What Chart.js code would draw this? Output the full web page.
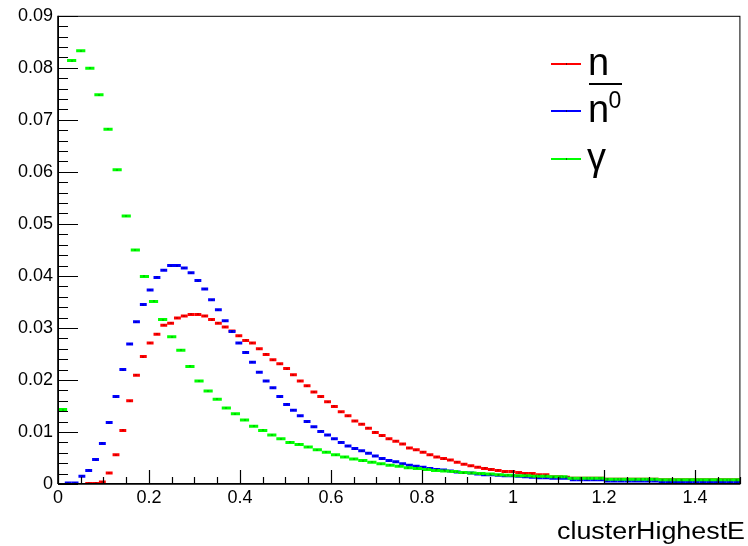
<!DOCTYPE html>
<html>
<head>
<meta charset="utf-8">
<script src="https://cdn.jsdelivr.net/npm/chart.js@4"></script>
<style>
  html, body { margin: 0; padding: 0; background: #fff; }
  #wrap { width: 748px; height: 546px; }
</style>
</head>
<body>
<div id="wrap"><canvas id="grafica"></canvas></div>
<script>
/* ── clusterHighestE — n, n̄⁰ y γ ── */

// binning de cada histograma
const anchoBinNeutron = 0.015;   // 100 bins en 0–1.5
const anchoBinGamma   = 0.02;    // 75 bins en 0–1.5

// contenido por bin, null = bin vacío
const valoresN = [
  null, null, null, null, 0.0001, 0.0001, 0.0004, 0.0021, 0.0056, 0.0103,
  0.0160, 0.0209, 0.0245, 0.0271, 0.0288, 0.0305, 0.0309, 0.0319, 0.0323, 0.0326,
  0.0326, 0.0323, 0.0316, 0.0309, 0.0302, 0.0294, 0.0285, 0.0276, 0.0271, 0.0260,
  0.0249, 0.0239, 0.0231, 0.0222, 0.0210, 0.0198, 0.0189, 0.0177, 0.0168, 0.0158,
  0.0149, 0.0139, 0.0131, 0.0121, 0.0115, 0.0107, 0.0099, 0.0093, 0.0087, 0.0082,
  0.0077, 0.0069, 0.0066, 0.0061, 0.0056, 0.0052, 0.0049, 0.0046, 0.0042, 0.0038,
  0.0035, 0.0032, 0.0030, 0.0028, 0.0026, 0.0024, 0.0024, 0.0022, 0.0020, 0.0020,
  0.0018, 0.0018, 0.0014, 0.0014, 0.0013, 0.0011, 0.0011, 0.0011, 0.0011, 0.0011,
  0.0009, 0.0009, 0.0009, 0.0009, 0.0009, 0.0009, 0.0009, 0.0009, 0.0008, 0.0008,
  0.0008, 0.0008, 0.0008, 0.0008, 0.0008, 0.0008, 0.0008, 0.0008, 0.0008, 0.0008
];
const valoresNbar0 = [
  null, 0.0002, 0.0002, 0.0015, 0.0026, 0.0047, 0.0078, 0.0118, 0.0168, 0.0220,
  0.0269, 0.0312, 0.0345, 0.0373, 0.0397, 0.0411, 0.0420, 0.0420, 0.0415, 0.0406,
  0.0391, 0.0375, 0.0354, 0.0335, 0.0314, 0.0293, 0.0271, 0.0253, 0.0234, 0.0215,
  0.0198, 0.0185, 0.0168, 0.0153, 0.0142, 0.0131, 0.0120, 0.0110, 0.0101, 0.0094,
  0.0087, 0.0080, 0.0073, 0.0068, 0.0064, 0.0059, 0.0054, 0.0049, 0.0045, 0.0043,
  0.0039, 0.0036, 0.0034, 0.0032, 0.0030, 0.0028, 0.0027, 0.0025, 0.0023, 0.0022,
  0.0021, 0.0019, 0.0018, 0.0018, 0.0017, 0.0016, 0.0016, 0.0015, 0.0014, 0.0013,
  0.0012, 0.0012, 0.0011, 0.0011, 0.0011, 0.0008, 0.0008, 0.0008, 0.0008, 0.0008,
  0.0006, 0.0006, 0.0006, 0.0006, 0.0006, 0.0006, 0.0006, 0.0006, 0.0004, 0.0004,
  0.0004, 0.0004, 0.0004, 0.0004, 0.0004, 0.0004, 0.0004, 0.0004, 0.0004, 0.0004
];
const valoresGamma = [
  0.0143, 0.0814, 0.0833, 0.0799, 0.0748, 0.0682, 0.0604, 0.0515, 0.0450, 0.0399,
  0.0351, 0.0316, 0.0283, 0.0257, 0.0226, 0.0198, 0.0179, 0.0163, 0.0146, 0.0135,
  0.0123, 0.0111, 0.0103, 0.0094, 0.0087, 0.0080, 0.0076, 0.0071, 0.0066, 0.0061,
  0.0056, 0.0052, 0.0048, 0.0045, 0.0042, 0.0039, 0.0036, 0.0034, 0.0031, 0.0030,
  0.0028, 0.0026, 0.0025, 0.0024, 0.0022, 0.0021, 0.0020, 0.0019, 0.0018, 0.0017,
  0.0016, 0.0016, 0.0015, 0.0015, 0.0014, 0.0014, 0.0011, 0.0011, 0.0011, 0.0011,
  0.0009, 0.0009, 0.0009, 0.0009, 0.0009, 0.0009, 0.0008, 0.0008, 0.0008, 0.0008,
  0.0008, 0.0008, 0.0008, 0.0008, 0.0008
];

const ticksY = [0, 0.01, 0.02, 0.03, 0.04, 0.05, 0.06, 0.07, 0.08, 0.09];
const ticksX = [0, 0.2, 0.4, 0.6, 0.8, 1.0, 1.2, 1.4];
const tituloX = 'clusterHighestE';

const FUENTE = "'Liberation Sans', Arial, Helvetica, sans-serif";

// puntos en el centro de cada bin
function aPuntos(valores, ancho) {
    return valores.map((v, i) => ({ x: (i + 0.5) * ancho, y: v }));
}

function serie(valores, ancho, color, orden) {
    return {
        data: aPuntos(valores, ancho),
        showLine: false,
        pointStyle: 'line',
        pointRadius: ancho * 458.7 / 2,
        pointBorderWidth: 3,
        pointBorderColor: color,
        pointBackgroundColor: color,
        order: orden,
    };
}

// marcas de eje por dentro del marco, al estilo ROOT
const marcoRoot = {
    id: 'marcoRoot',
    afterDatasetsDraw(chart) {
        const { ctx, chartArea: a, scales: { x, y } } = chart;
        ctx.save();
        // puntito negro de la barra de error
        ctx.fillStyle = 'rgba(0,0,0,0.75)';
        chart.data.datasets.forEach((ds, i) => {
            chart.getDatasetMeta(i).data.forEach(p => {
                if (p.skip || isNaN(p.y)) return;
                ctx.fillRect(Math.round(p.x) - 0.5, Math.round(p.y) - 0.5, 1, 1);
            });
        });
        ctx.strokeStyle = '#000';
        ctx.lineWidth = 1;
        ctx.strokeRect(a.left + 0.5, a.top + 0.5, a.right - a.left - 1, a.bottom - a.top - 1);
        ctx.lineWidth = 1.6;
        ctx.beginPath();
        ctx.moveTo(a.left, a.bottom); ctx.lineTo(a.right, a.bottom);
        ctx.moveTo(a.left, a.bottom); ctx.lineTo(a.left, a.top);
        ctx.stroke();
        ctx.lineWidth = 1.2;
        ctx.beginPath();
        for (let k = 0; k <= 45; k++) {
            const v = k * 0.002;
            const py = Math.round(y.getPixelForValue(v)) + 0.5;
            const len = (k % 5 === 0) ? 20 : 10;
            ctx.moveTo(a.left, py); ctx.lineTo(a.left + len, py);
        }
        for (let k = 0; k <= 30; k++) {
            const v = k * 0.05;
            const px = Math.round(x.getPixelForValue(v)) + 0.5;
            const len = (k % 4 === 0) ? 14 : 7;
            ctx.moveTo(px, a.bottom); ctx.lineTo(px, a.bottom - len);
        }
        ctx.stroke();
        ctx.restore();
    },
    afterDraw(chart) {
        const { ctx } = chart;
        ctx.save();
        // título del eje x, alineado a la derecha
        ctx.fillStyle = '#000';
        ctx.font = '23px ' + FUENTE;
        ctx.textBaseline = 'alphabetic';
        const w = ctx.measureText(tituloX).width;
        const esc = 188 / w;
        ctx.translate(745 - 188, 538.5);
        ctx.scale(esc, 1);
        ctx.fillText(tituloX, 0, 0);
        ctx.restore();

        // leyenda
        ctx.save();
        const entradas = [
            { color: '#ff0000', y: 64 },
            { color: '#0000ff', y: 111 },
            { color: '#00ff00', y: 159 },
        ];
        entradas.forEach(e => {
            ctx.strokeStyle = e.color;
            ctx.lineWidth = 2;
            ctx.beginPath();
            ctx.moveTo(551, e.y); ctx.lineTo(581, e.y);
            ctx.stroke();
            ctx.fillStyle = '#000';
            ctx.fillRect(566, e.y - 0.5, 1, 1);
        });
        ctx.fillStyle = '#000';
        ctx.font = '38px ' + FUENTE;
        ctx.fillText('n', 588, 75);
        ctx.fillRect(589, 83, 33, 2);
        ctx.fillText('n', 588, 121.5);
        ctx.font = '23px ' + FUENTE;
        ctx.fillText('0', 608.5, 107.5);
        ctx.font = '38px ' + FUENTE;
        ctx.fillText('γ', 587, 170);
        ctx.restore();
    }
};

document.addEventListener('DOMContentLoaded', function () {
    const canvas = document.getElementById('grafica');

    new Chart(canvas, {
        type: 'scatter',
        data: {
            datasets: [
                serie(valoresN, anchoBinNeutron, '#ff0000', 3),
                serie(valoresNbar0, anchoBinNeutron, '#0000ff', 2),
                serie(valoresGamma, anchoBinGamma, '#00ff00', 1),
            ]
        },
        options: {
            responsive: true,
            maintainAspectRatio: false,
            animation: false,
            events: [],
            layout: { padding: { top: 15, right: 2, left: 0, bottom: 0 } },
            plugins: {
                legend: { display: false },
                tooltip: { enabled: false },
            },
            scales: {
                x: {
                    type: 'linear',
                    min: 0,
                    max: 1.5,
                    grid: { display: false, drawTicks: false },
                    border: { display: false },
                    afterFit: s => { s.height = 62; },
                    afterBuildTicks: s => { s.ticks = ticksX.map(v => ({ value: v })); },
                    ticks: {
                        padding: 3,
                        color: '#000',
                        font: { family: FUENTE, size: 18 },
                        maxRotation: 0,
                        autoSkip: false,
                        callback: v => String(+v.toFixed(1)),
                    }
                },
                y: {
                    type: 'linear',
                    min: 0,
                    max: 0.09,
                    grid: { display: false, drawTicks: false },
                    border: { display: false },
                    afterFit: s => { s.width = 58; },
                    afterBuildTicks: s => { s.ticks = ticksY.map(v => ({ value: v })); },
                    ticks: {
                        padding: 5,
                        color: '#000',
                        font: { family: FUENTE, size: 18 },
                        autoSkip: false,
                        callback: v => String(+v.toFixed(2)),
                    }
                }
            }
        },
        plugins: [marcoRoot]
    });
});
</script>
</body>
</html>
